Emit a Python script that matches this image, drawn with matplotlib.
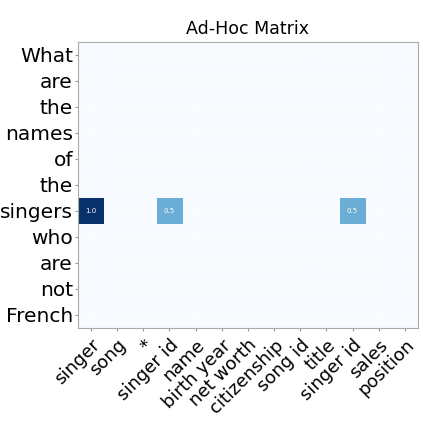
import numpy as np
import matplotlib
matplotlib.use("Agg")
import matplotlib.pyplot as plt

question = ["What", "are", "the", "names", "of", "the", "singers",
            "who", "are", "not", "French"]
schema = ["singer", "song", "*", "singer id", "name", "birth year",
          "net worth", "citizenship", "song id", "title", "singer id",
          "sales", "position"]

# attention weights, rows = question tokens, cols = schema items
weights = np.zeros((len(question), len(schema)))
weights[6, 0] = 1.0
weights[6, 3] = 0.5
weights[6, 10] = 0.5

fig = plt.figure(figsize=(4.23, 4.23), dpi=100)
ax = fig.add_axes([0.184, 0.225, 0.804, 0.676])
ax.imshow(weights, cmap="Blues", vmin=0, vmax=1, aspect="auto")

for i in range(len(question)):
    for j in range(len(schema)):
        ax.text(j, i, f"{weights[i, j]:.1f}", ha="center", va="center",
                color="white", fontsize=5)

ax.set_xticks(range(len(schema)))
ax.set_xticklabels(schema, rotation=45, ha="right", rotation_mode="anchor",
                   fontsize=13)
ax.set_yticks(range(len(question)))
ax.set_yticklabels(question, fontsize=14.5)
ax.tick_params(axis="y", pad=1)
ax.tick_params(color="#999999", length=2.5)
for s in ax.spines.values():
    s.set_color("#aaaaaa")
ax.set_title("Ad-Hoc Matrix", fontsize=12.5)

fig.savefig("out.png", dpi=100)
